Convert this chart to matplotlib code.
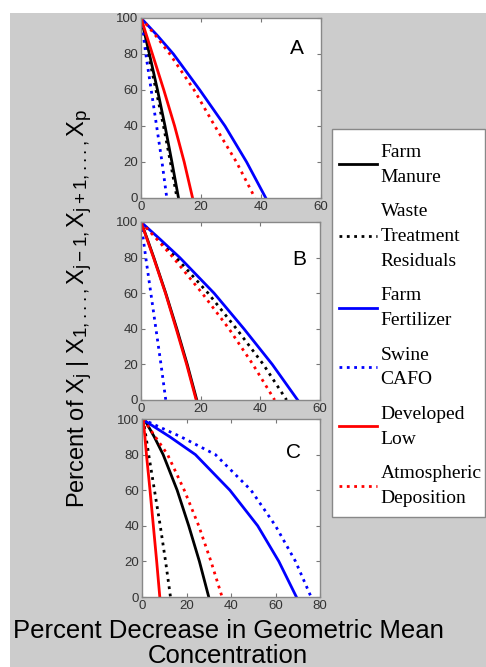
import matplotlib
matplotlib.use("Agg")
import matplotlib.pyplot as plt
from matplotlib.patches import Rectangle
try:
    import matplotlib._mathtext as _mt
    _mt.SHRINK_FACTOR = 0.8
except Exception:
    pass

plt.rcParams['font.family'] = ['Liberation Sans', 'DejaVu Sans']
plt.rcParams['mathtext.fontset'] = 'custom'
plt.rcParams['mathtext.rm'] = 'Liberation Sans'
plt.rcParams['mathtext.it'] = 'Liberation Sans:italic'

# ---- data ----
series_names = ["Farm\nManure", "Waste\nTreatment\nResiduals", "Farm\nFertilizer",
                "Swine\nCAFO", "Developed\nLow", "Atmospheric\nDeposition"]
series_colors = ["black", "black", "blue", "blue", "red", "red"]
series_styles = ["-", ":", "-", ":", "-", ":"]

percent_levels = [100, 90, 80, 60, 40, 20, 0]

# x (percent decrease) at each percent level, per panel
panel_A = {
    "Farm\nManure":               [0, 1.4, 2.8, 5.5, 8.0, 10.3, 12.5],
    "Waste\nTreatment\nResiduals": [0, 1.2, 2.4, 5.0, 7.5, 9.8, 12.0],
    "Farm\nFertilizer":           [0, 5.6, 10.8, 19.6, 28.0, 35.2, 41.6],
    "Swine\nCAFO":                [0, 0.8, 1.6, 3.4, 5.2, 7.0, 8.6],
    "Developed\nLow":             [0, 1.9, 3.8, 7.6, 11.2, 14.4, 17.2],
    "Atmospheric\nDeposition":    [0, 5.0, 9.6, 17.7, 24.6, 31.8, 38.0],
}
panel_B = {
    "Farm\nManure":               [0, 2.2, 4.3, 8.3, 12.0, 15.5, 18.7],
    "Waste\nTreatment\nResiduals": [0, 6.0, 11.8, 22.5, 32.0, 41.0, 48.8],
    "Farm\nFertilizer":           [0, 6.6, 13.0, 24.5, 34.5, 44.0, 52.5],
    "Swine\nCAFO":                [0, 0.8, 1.6, 3.3, 5.0, 6.7, 8.3],
    "Developed\nLow":             [0, 2.1, 4.2, 8.2, 11.8, 15.3, 18.5],
    "Atmospheric\nDeposition":    [0, 5.5, 10.8, 20.5, 29.5, 37.5, 44.8],
}
panel_C = {
    "Farm\nManure":               [1.0, 5.5, 9.5, 15.8, 21.0, 25.8, 30.0],
    "Waste\nTreatment\nResiduals": [0.5, 1.8, 3.0, 5.6, 8.2, 10.6, 12.8],
    "Farm\nFertilizer":           [0, 12.5, 24.0, 39.5, 52.0, 61.5, 69.4],
    "Swine\nCAFO":                [0, 17.5, 33.0, 49.0, 60.0, 69.0, 76.0],
    "Developed\nLow":             [0.5, 1.3, 2.0, 3.6, 5.1, 6.6, 8.0],
    "Atmospheric\nDeposition":    [0.5, 6.0, 11.5, 19.0, 25.5, 31.0, 36.0],
}
panels = [("A", panel_A, [0, 20, 40, 60]),
          ("B", panel_B, [0, 20, 40, 60]),
          ("C", panel_C, [0, 20, 40, 60, 80])]
y_ticks = [0, 20, 40, 60, 80, 100]

# ---- figure ----
W, H = 486, 667
fig = plt.figure(figsize=(W / 100, H / 100), dpi=100, facecolor="white")
fig.add_artist(Rectangle((10 / W, 0), 1 - 10 / W, 1 - 13 / H, transform=fig.transFigure,
                         facecolor="#cccccc", edgecolor="none", zorder=-10))

boxes = [(141, 18, 321, 198), (141, 222, 320, 400), (142, 419, 320, 597)]
label_pos = [(52, 83), (53, 79), (68, 81)]

handles = None
for (name, data, xt), (l, t, r, b), (lx, ly) in zip(panels, boxes, label_pos):
    ax = fig.add_axes([l / W, 1 - b / H, (r - l) / W, (b - t) / H])
    ax.set_facecolor("white")
    hs = []
    for s, c, ls in zip(series_names, series_colors, series_styles):
        h, = ax.plot(data[s], percent_levels, color=c, linestyle=ls, lw=2.0, label=s)
        hs.append(h)
    if handles is None:
        handles = hs
    ax.set_xlim(xt[0], xt[-1])
    ax.set_ylim(0, 100)
    ax.set_xticks(xt)
    ax.set_yticks(y_ticks)
    ax.tick_params(direction="in", length=3, width=0.8, top=True, right=True,
                   labelsize=9.5, colors="#777777", labelcolor="#333333", pad=2)
    for sp in ax.spines.values():
        sp.set_color("#888888")
        sp.set_linewidth(1.0)
    ax.text(lx, ly, name, fontsize=15, ha="center", va="center", color="black")

# legend box
fig.add_artist(Rectangle((332 / W, 1 - 517 / H), (485 - 332) / W, (517 - 129) / H,
                         transform=fig.transFigure, facecolor="white",
                         edgecolor="#888888", linewidth=1.0, zorder=4))
leg = fig.legend(handles=handles, labels=series_names, loc="upper left",
                 bbox_to_anchor=(332 / W, 1 - 137 / H), borderaxespad=0,
                 prop={"family": "Liberation Serif", "size": 14},
                 frameon=False,
                 handlelength=1.95, handletextpad=0.2, labelspacing=0.9,
                 borderpad=0.35)
leg.set_zorder(5)
for tx in leg.get_texts():
    tx.set_linespacing(1.6)

fig.text(80 / W, 1 - 308 / H,
         r"Percent of X$_\mathregular{j}$ | X$_\mathregular{1,...,}$X$_\mathregular{j-1,}$"
         r"X$_\mathregular{j+1,...,}$X$_\mathregular{p}$",
         rotation=90, ha="center", va="center", fontsize=17)
fig.text(228 / W, 1 - 643.5 / H, "Percent Decrease in Geometric Mean\nConcentration",
         ha="center", va="center", fontsize=18.5, linespacing=1.1)

fig.savefig("out.png", dpi=100, facecolor=fig.get_facecolor())
